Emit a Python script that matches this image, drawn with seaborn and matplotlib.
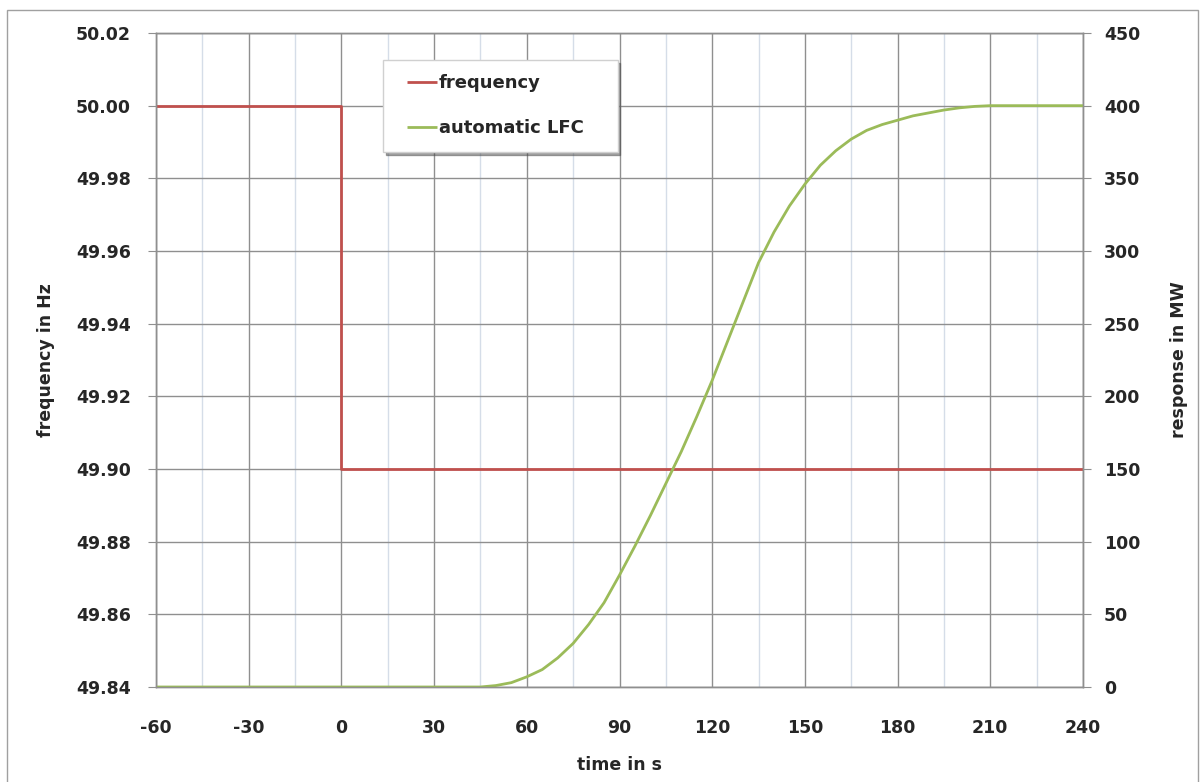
import matplotlib
matplotlib.use("Agg")
import matplotlib.pyplot as plt
import matplotlib.patches as mpatches
from matplotlib.legend_handler import HandlerLine2D
from matplotlib.ticker import MultipleLocator, FormatStrFormatter
import seaborn as sns
import pandas as pd

# ---- data ----
freq_time = [-60, 0, 0, 240]
freq_hz = [50.00, 50.00, 49.90, 49.90]

lfc_time = [-60, -30, 0, 30, 45, 50, 55, 60, 65, 70, 75, 80, 85, 90, 95, 100,
            105, 110, 115, 120, 125, 130, 135, 140, 145, 150, 155, 160, 165,
            170, 175, 180, 185, 190, 195, 200, 205, 210, 220, 230, 240]
lfc_mw = [0, 0, 0, 0, 0, 1, 3, 7, 12, 20, 30, 43, 58, 77, 97, 118,
          140, 162, 186, 211, 238, 265, 292, 313, 331, 346, 359, 369, 377,
          383, 387, 390, 393, 395, 397, 398.5, 399.5, 400, 400, 400, 400]

x_ticks = list(range(-60, 241, 30))
freq_ticks = [49.84, 49.86, 49.88, 49.90, 49.92, 49.94, 49.96, 49.98, 50.00, 50.02]
mw_ticks = list(range(0, 451, 50))

series_names = ["frequency", "automatic LFC"]
red = "#C0504D"
green = "#9BBB59"

df_f = pd.DataFrame({"t": freq_time, "f": freq_hz})
df_l = pd.DataFrame({"t": lfc_time, "p": lfc_mw})

sns.set_style("white")
plt.rcParams["font.family"] = ["DejaVu Sans"]
plt.rcParams["font.weight"] = "bold"
plt.rcParams["axes.unicode_minus"] = False
plt.rcParams["lines.solid_capstyle"] = "butt"

fig = plt.figure(figsize=(12.01, 7.82), dpi=100)
ax = fig.add_axes([156 / 1201, 1 - 687 / 782, 927 / 1201, 654 / 782])
ax2 = ax.twinx()

sns.lineplot(data=df_f, x="t", y="f", ax=ax, color=red, linewidth=2.0,
             estimator=None, sort=False, label=series_names[0], legend=False)
sns.lineplot(data=df_l, x="t", y="p", ax=ax2, color=green, linewidth=2.0,
             estimator=None, sort=False, label=series_names[1], legend=False)

ax.set_xlim(-60, 240)
ax.set_ylim(49.84, 50.02)
ax2.set_ylim(0, 450)
ax.set_xticks(x_ticks)
ax.set_yticks(freq_ticks)
ax2.set_yticks(mw_ticks)
ax.yaxis.set_major_formatter(FormatStrFormatter("%.2f"))
ax.xaxis.set_minor_locator(MultipleLocator(15))

gcol = "#8f8f8f"
ax.grid(True, which="major", axis="both", color=gcol, linewidth=1.0)
ax.grid(True, which="minor", axis="x", color="#d5dde8", linewidth=1.0)
ax.set_axisbelow(True)
ax2.grid(False)

for a in (ax, ax2):
    for s in a.spines.values():
        s.set_color(gcol)
        s.set_linewidth(1.0)
        s.set_visible(True)

ax.tick_params(axis="x", which="major", direction="out", length=6, color=gcol,
               labelsize=12.5, pad=17)
ax.tick_params(axis="x", which="minor", length=0)
ax.tick_params(axis="y", direction="out", length=6, color=gcol, labelsize=12.5, pad=12)
ax2.tick_params(axis="y", direction="out", length=6, color=gcol, labelsize=12.5, pad=9)
for lab in ax.get_xticklabels() + ax.get_yticklabels() + ax2.get_yticklabels():
    lab.set_fontweight("bold")

ax.set_xlabel("time in s", fontsize=12.5, fontweight="bold")
ax.set_ylabel("frequency in Hz", fontsize=12.5, fontweight="bold")
ax2.set_ylabel("response in MW", fontsize=12.5, fontweight="bold")
ax.xaxis.set_label_coords(0.5, -0.105)
ax.yaxis.set_label_coords(-0.109, 0.5)
ax2.yaxis.set_label_coords(1.094, 0.5)

h1, l1 = ax.get_legend_handles_labels()
h2, l2 = ax2.get_legend_handles_labels()
leg = ax2.legend(h1 + h2, l1 + l2, loc="upper left",
                 bbox_to_anchor=(0.245, 0.813, 0.253, 0.146), mode="expand",
                 frameon=True, fancybox=False, shadow=True,
                 prop={"size": 13, "weight": "bold"},
                 handlelength=2.2, handletextpad=0.1, labelspacing=1.5,
                 borderpad=0.8, borderaxespad=0,
                 handler_map={h: HandlerLine2D(xpad=0.5) for h in h1 + h2})
leg.get_frame().set_edgecolor("#d0d0d0")
leg.get_frame().set_linewidth(1.0)

# outer chart frame
fig.patches.append(mpatches.Rectangle((7 / 1201, -0.02), 1191 / 1201, 1.02 - 10 / 782,
                                      transform=fig.transFigure, fill=False,
                                      edgecolor="#a0a0a0", linewidth=1.0))

fig.savefig("out.png", dpi=100)
